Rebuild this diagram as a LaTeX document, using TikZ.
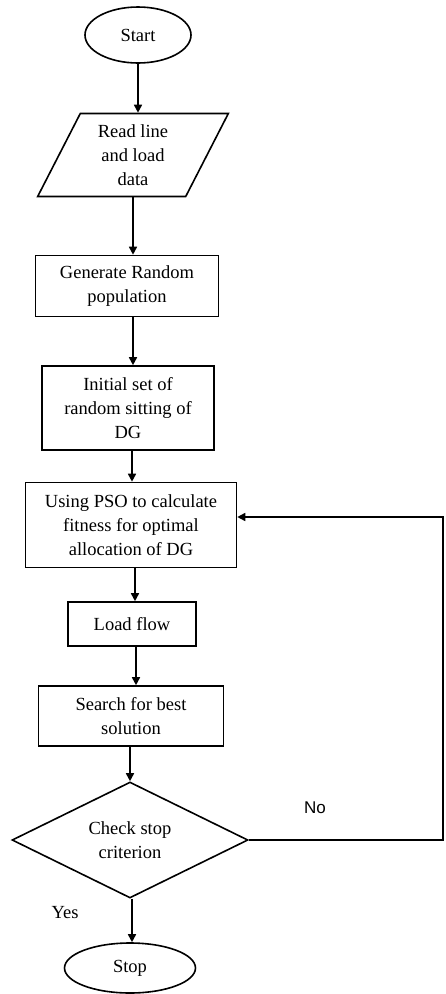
\documentclass[tikz,border=0pt]{standalone}
\usepackage{fontspec}
\setmainfont{Liberation Serif}
\newfontfamily\labelsans{Liberation Sans}
\usetikzlibrary{shapes.geometric,arrows.meta}

\begin{document}
\begin{tikzpicture}[x=1pt,y=-1pt,
  every node/.style={font=\fontsize{18.5}{24}\selectfont, align=center},
  proc/.style={draw, line width=1.6pt, rectangle, inner sep=0pt},
  term/.style={draw, line width=1.6pt, ellipse, inner sep=0pt},
  io/.style={draw, line width=1.6pt, trapezium, trapezium left angle=65,
    trapezium right angle=115, trapezium stretches=true, inner sep=0pt},
  decide/.style={draw, line width=1.6pt, diamond, aspect=2, inner sep=0pt},
  flow/.style={-{Triangle[length=8pt,width=8pt]}, line width=1.6pt}]
\useasboundingbox (0,0) rectangle (446,994);

\node[term, minimum width=106pt, minimum height=56pt] (start) at (138,35) {Start};
\node[io, minimum width=191pt, minimum height=83pt] (read) at (133,155)
     {Read line\\and load\\data};
\node[proc, minimum width=183pt, minimum height=61pt] (gen) at (127,286)
     {Generate Random\\population};
\node[proc, minimum width=172pt, minimum height=84pt] (init) at (128,408)
     {Initial set of\\random sitting of\\DG};
\node[proc, minimum width=211pt, minimum height=85pt] (pso) at (131,525)
     {Using PSO to calculate\\fitness for optimal\\allocation of DG};
\node[proc, minimum width=128pt, minimum height=44pt] (load) at (132,624) {Load flow};
\node[proc, minimum width=185pt, minimum height=60pt] (search) at (131,716)
     {Search for best\\solution};
\node[decide, minimum width=236pt, minimum height=116pt] (check) at (130,840)
     {Check stop\\criterion};
\node[term, minimum width=131pt, minimum height=50pt] (stop) at (130,968) {Stop};

%% branch labels
\node[font=\labelsans\fontsize{17}{20}\selectfont] (no) at (315,808) {No};
\node (yes) at (65,913) {Yes};

\draw[flow] (start.south) -- (start.south |- read.north);
\draw[flow] (read.south) -- (read.south |- gen.north);
\draw[flow] ([xshift=6pt]gen.south) -- ([xshift=6pt]gen.south |- init.north);
\draw[flow] ([xshift=4pt]init.south) -- ([xshift=4pt]init.south |- pso.north);
\draw[flow] ([xshift=4pt]pso.south) -- ([xshift=4pt]pso.south |- load.north);
\draw[flow] ([xshift=4pt]load.south) -- ([xshift=4pt]load.south |- search.north);
\draw[flow] ([xshift=-1pt]search.south) -- (check.north);
\draw[flow] ([xshift=2pt]check.south) -- ([xshift=2pt]check.south |- stop.north);

%% loop back when the criterion fails
\coordinate (back) at (443,517);
\draw[flow] (check.east) -| (back) -- (back -| pso.east);
\end{tikzpicture}
\end{document}
